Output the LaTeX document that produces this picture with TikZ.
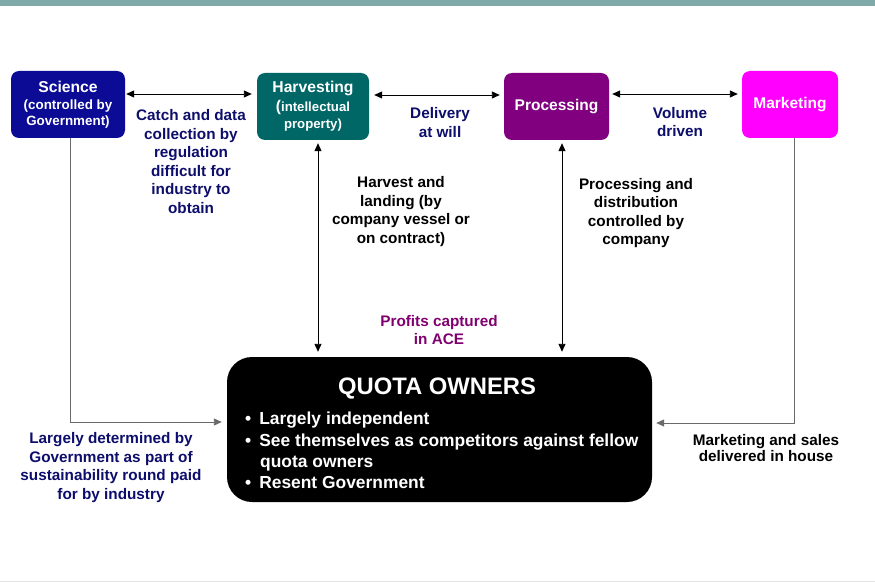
\documentclass[tikz,border=0pt]{standalone}
\usepackage{fontspec}
\setmainfont{Liberation Sans}
\usetikzlibrary{arrows.meta}
\definecolor{topbar}{HTML}{80AAAA}
\definecolor{scicol}{HTML}{0B0B96}
\definecolor{harvcol}{HTML}{006666}
\definecolor{proccol}{HTML}{800080}
\definecolor{markcol}{HTML}{FF00FF}
\definecolor{navytxt}{HTML}{0D0D6B}
\definecolor{proftxt}{HTML}{800070}
\definecolor{linegray}{HTML}{6A6A6A}
\tikzset{
  stagebox/.style={draw=none, rounded corners=8pt, text=white, align=center,
    font=\bfseries\fontsize{15.5}{17}\selectfont, inner sep=0pt},
  lbl/.style={align=center, font=\bfseries\fontsize{15.3}{18.5}\selectfont, inner sep=0pt},
  navylbl/.style={lbl, text=navytxt},
  biarrow/.style={{Triangle[length=8pt,width=7pt]}-{Triangle[length=8pt,width=7pt]}, line width=0.9pt, black},
  onearrow/.style={-{Triangle[length=8pt,width=7pt]}, line width=0.9pt, linegray}
}
\begin{document}
\begin{tikzpicture}[x=1pt,y=-1pt]
\useasboundingbox (0,0) rectangle (875,583);
\fill[topbar] (0,0) rectangle (875,6);
\draw[line width=0.6pt, color=blue!5!gray!20] (0,581) -- (875,581);

% stage boxes
\node[stagebox, fill=scicol, minimum width=114pt, minimum height=67pt] (sci) at (68,104.5) {};
\node[font=\bfseries\fontsize{15.7}{17}\selectfont, text=white] at (68,87) {Science};
\node[font=\bfseries\fontsize{13.4}{16.5}\selectfont, text=white, align=center] at (68,114) {(controlled by\\Government)};

\node[stagebox, fill=harvcol, minimum width=112pt, minimum height=67pt] (harv) at (313,106.5) {};
\node[font=\bfseries\fontsize{15.7}{17}\selectfont, text=white] at (313,88) {Harvesting};
\node[font=\bfseries\fontsize{13.2}{17}\selectfont, text=white, align=center] at (313,115.5) {{\fontsize{15.5}{17}\selectfont(}intellectual\\property)};

\node[stagebox, fill=proccol, minimum width=105pt, minimum height=67pt] (proc) at (556.5,106.5) {Processing};
\node[stagebox, fill=markcol, minimum width=96pt, minimum height=67pt] (mark) at (790,104.5) {Marketing};

% quota owners
\node[fill=black, rounded corners=25pt, minimum width=425pt, minimum height=145pt, inner sep=0pt] (quota) at (439.5,429.5) {};
\node[text=white, font=\bfseries\fontsize{23.8}{26}\selectfont] (qtitle) at (437,389) {QUOTA OWNERS};
\node[text=white, font=\bfseries\fontsize{17.4}{21.3}\selectfont, align=left, anchor=north west, inner sep=0pt] (qlist) at (245,412)
 {\textbullet\hspace{8pt}Largely independent\\
  \textbullet\hspace{8pt}See themselves as competitors against fellow\\
  \hspace{15pt}quota owners\\
  \textbullet\hspace{8pt}Resent Government};

% helper coordinates
\coordinate (y1) at (0,94);
\coordinate (y2) at (0,95);
\coordinate (hx) at (318,0);
\coordinate (px) at (562,0);
\coordinate (sx) at (70,0);
\coordinate (mx) at (794,0);
\coordinate (sl) at (70,422);
\coordinate (ml) at (794,423);

% connectors
\draw[biarrow] ([xshift=1pt]sci.east |- y1) -- ([xshift=-5pt]harv.west |- y1);
\draw[biarrow] ([xshift=5pt]harv.east |- y2) -- ([xshift=-4pt]proc.west |- y2);
\draw[biarrow] ([xshift=3pt]proc.east |- y1) -- ([xshift=-4pt]mark.west |- y1);
\draw[biarrow] ([yshift=-3pt]harv.south -| hx) -- ([yshift=5pt]quota.north -| hx);
\draw[biarrow] ([yshift=-3pt]proc.south -| px) -- ([yshift=5pt]quota.north -| px);
\draw[onearrow] (sci.south -| sx) -- (sl) -- ([xshift=-5pt]quota.west |- sl);
\draw[onearrow] (mark.south -| mx) -- (ml) -- ([xshift=4pt]quota.east |- ml);

% labels
\node[navylbl] at (191,161.5) {Catch and data\\collection by\\regulation\\difficult for\\industry to\\obtain};
\node[navylbl] at (440,122.5) {Delivery\\at will};
\node[navylbl] at (680,122) {Volume\\driven};
\node[lbl] at (401,211.5) {Harvest and\\landing (by\\company vessel or\\on contract)};
\node[lbl] at (636,213) {Processing and\\distribution\\controlled by\\company};
\node[lbl, text=proftxt] at (439,330) {Profits captured\\in ACE};
\node[navylbl] at (111,467.5) {Largely determined by\\Government as part of\\sustainability round paid\\for by industry};
\node[lbl, font=\bfseries\fontsize{15.3}{16.5}\selectfont] at (766,448) {Marketing and sales\\delivered in house};
\end{tikzpicture}
\end{document}
